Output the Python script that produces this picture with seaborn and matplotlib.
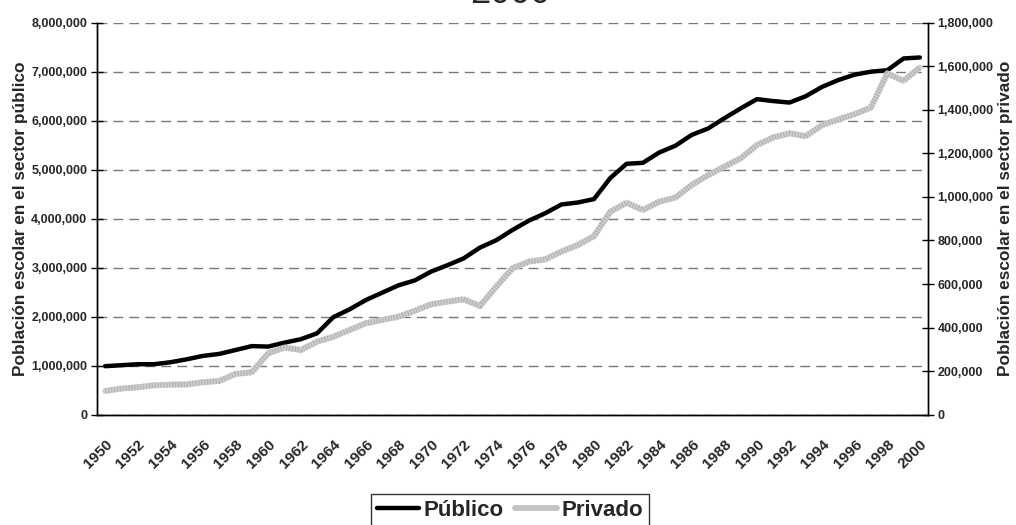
import matplotlib
matplotlib.use('Agg')
import matplotlib.pyplot as plt
import matplotlib.ticker as mticker
import matplotlib.transforms as mtransforms
import seaborn as sns
import pandas as pd

# data
years = list(range(1950, 2001))
publico = [990000, 1010000, 1030000, 1030000, 1070000, 1130000, 1200000, 1240000, 1320000, 1400000,
           1390000, 1470000, 1540000, 1660000, 1990000, 2150000, 2340000, 2490000, 2640000, 2740000,
           2920000, 3050000, 3190000, 3410000, 3560000, 3770000, 3960000, 4110000, 4290000, 4330000,
           4400000, 4830000, 5120000, 5140000, 5350000, 5490000, 5710000, 5840000, 6050000, 6250000,
           6440000, 6400000, 6370000, 6500000, 6690000, 6830000, 6940000, 7000000, 7030000, 7270000,
           7290000]
privado = [109000, 120000, 126000, 135000, 138000, 139000, 149000, 155000, 187000, 195000,
           282000, 308000, 297000, 335000, 358000, 389000, 420000, 435000, 450000, 477000,
           507000, 519000, 530000, 499000, 588000, 672000, 703000, 713000, 749000, 779000,
           820000, 932000, 973000, 940000, 978000, 997000, 1055000, 1100000, 1139000, 1177000,
           1238000, 1273000, 1292000, 1279000, 1330000, 1356000, 1380000, 1411000, 1567000, 1533000,
           1595000]
year_labels = list(range(1950, 2001, 2))

df = pd.DataFrame({'Año': years, 'Público': publico, 'Privado': privado})

sns.set_style('white')
plt.rcParams['font.family'] = ['Liberation Sans', 'DejaVu Sans']

fig = plt.figure(figsize=(10.16, 5.25), dpi=100)
ax = fig.add_axes([0.0955, 0.2101, 0.8179, 0.7467])
ax2 = ax.twinx()

sns.lineplot(data=df, x='Año', y='Público', ax=ax, color='black', linewidth=3.2,
             solid_capstyle='round', legend=False, zorder=3)
sns.lineplot(data=df, x='Año', y='Privado', ax=ax2, color='#d0d0d0', linewidth=4.2,
             legend=False, zorder=3)
# striped texture of the gray line
sns.lineplot(data=df, x='Año', y='Privado', ax=ax2, color='#b6b6b6', linewidth=4.2,
             linestyle=(0, (0.25, 0.25)), legend=False, zorder=3)

# axes ranges and ticks
ax.set_xlim(1949.5, 2000.5)
ax.set_ylim(0, 8000000)
ax2.set_ylim(0, 1800000)
ax.set_yticks(range(0, 8000001, 1000000))
ax2.set_yticks(range(0, 1800001, 200000))
ax.yaxis.set_major_formatter(mticker.StrMethodFormatter('{x:,.0f}'))
ax2.yaxis.set_major_formatter(mticker.StrMethodFormatter('{x:,.0f}'))

ax.set_xticks(year_labels)
ax.set_xticks([y - 0.5 for y in years] + [2000.5], minor=True)
ax.set_xticklabels([str(y) for y in year_labels], rotation=45, ha='right',
                   rotation_mode='anchor', fontweight='bold', fontsize=11)
shift = mtransforms.ScaledTranslation(-9 / 100, 0, fig.dpi_scale_trans)
for lab in ax.get_xticklabels():
    lab.set_transform(lab.get_transform() + shift)
ax.tick_params(axis='x', which='major', length=0, pad=16)
ax.tick_params(axis='x', which='minor', direction='inout', length=8, width=1, color='black')
ax.tick_params(axis='y', direction='inout', length=8, width=1, color='black', pad=3, labelsize=9)
ax2.tick_params(axis='y', direction='inout', length=8, width=1, color='black', pad=3, labelsize=9)
for lab in ax.get_yticklabels() + ax2.get_yticklabels():
    lab.set_fontweight('bold')

# dashed horizontal grid
ax.grid(axis='y', color='#777777', linestyle=(0, (7, 4.5)), linewidth=1)
ax.grid(axis='x', visible=False)
ax2.grid(False)

for a in (ax, ax2):
    a.spines['top'].set_visible(False)
    for s in ('left', 'right', 'bottom'):
        a.spines[s].set_color('black')
        a.spines[s].set_linewidth(1)

ax.set_xlabel('')
ax.set_ylabel('Población escolar en el sector público', fontsize=12.4, fontweight='bold', labelpad=2)
ax2.set_ylabel('Población escolar en el sector privado', fontsize=12.4, fontweight='bold', labelpad=3)

# title (cut off at the top of the image)
fig.text(0.502, 1 - 3 / 525, '2000', ha='center', va='baseline', fontsize=26)

# legend
handles = [plt.Line2D([], [], color='black', linewidth=3.2),
           plt.Line2D([], [], color='#c4c4c4', linewidth=4.2)]
leg = fig.legend(handles, ['Público', 'Privado'], loc='upper center', bbox_to_anchor=(0.502, 0.059),
                 ncol=2, frameon=True, fancybox=False, prop={'weight': 'bold', 'size': 16},
                 handlelength=1.9, handletextpad=0.2, columnspacing=0.5, borderpad=0.25,
                 borderaxespad=0)
leg.get_frame().set_edgecolor('black')
leg.get_frame().set_linewidth(1)

fig.savefig('out.png', dpi=100)
